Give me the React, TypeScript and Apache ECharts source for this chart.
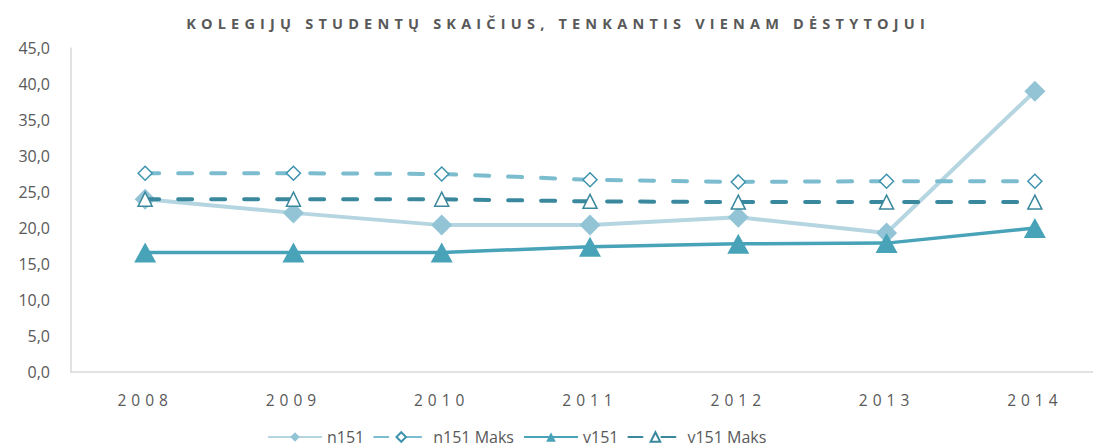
import React, { useEffect, useRef } from "react";
import * as echarts from "echarts";

const categories = ["2008", "2009", "2010", "2011", "2012", "2013", "2014"];
const n151 = [24.0, 22.1, 20.4, 20.4, 21.5, 19.3, 39.0];
const n151Maks = [27.6, 27.6, 27.5, 26.7, 26.4, 26.5, 26.5];
const v151 = [16.6, 16.6, 16.6, 17.4, 17.8, 17.9, 20.0];
const v151Maks = [24.0, 24.0, 24.0, 23.7, 23.6, 23.6, 23.6];
const title = "KOLEGIJŲ STUDENTŲ SKAIČIUS, TENKANTIS VIENAM DĖSTYTOJUI";

const css = `
#root svg text[style*="14.5px"] { letter-spacing: 5.2px; }
#root svg text[style*="15.5px"] { letter-spacing: 5px; }
`;

const W = 1110;

export default function App() {
  const ref = useRef<HTMLDivElement>(null);
  useEffect(() => {
    const chart = echarts.init(ref.current!, null, { renderer: "svg" });
    const font = "'Open Sans', 'Liberation Sans', sans-serif";
    chart.setOption({
      animation: false,
      title: {
        text: title,
        left: 553,
        top: 11,
        textAlign: "center",
        textStyle: { fontFamily: font, fontSize: 14.5, fontWeight: "bold", color: "#595959" },
      },
      legend: {
        bottom: -2,
        left: 262,
        itemWidth: 54,
        itemHeight: 12,
        itemGap: 9,
        textStyle: { fontFamily: font, fontSize: 16, color: "#595959" },
        data: ["n151", "n151 Maks", "v151", "v151 Maks"],
      },
      grid: { left: 71, top: 48, width: 1038, height: 324 },
      xAxis: {
        type: "category",
        data: categories,
        boundaryGap: true,
        axisLine: { lineStyle: { color: "#d9d9d9", width: 1.5 } },
        axisTick: { show: false },
        axisLabel: { fontFamily: font, fontSize: 15.5, color: "#595959", margin: 20 },
      },
      yAxis: {
        type: "value",
        min: 0,
        max: 45,
        interval: 5,
        splitLine: { show: false },
        axisLine: { show: true, lineStyle: { color: "#d9d9d9", width: 1.5 } },
        axisTick: { show: false },
        axisLabel: {
          fontFamily: font,
          fontSize: 16,
          color: "#595959",
          margin: 21,
          formatter: (v: number) => v.toFixed(1).replace(".", ","),
        },
      },
      series: [
        {
          name: "n151",
          type: "line",
          data: n151,
          symbol: "diamond",
          symbolSize: 21,
          lineStyle: { color: "#b5d6e1", width: 4 },
          itemStyle: { color: "#93c4d6", borderWidth: 0 },
          z: 2,
        },
        {
          name: "n151 Maks",
          type: "line",
          data: n151Maks,
          symbol: "diamond",
          symbolSize: 14,
          lineStyle: { color: "#7bbccf", width: 4, type: [14, 19], cap: "round" },
          itemStyle: { color: "#ffffff", borderColor: "#3d93ad", borderWidth: 1.5 },
          z: 3,
        },
        {
          name: "v151",
          type: "line",
          data: v151,
          symbol: "triangle",
          symbolSize: [22, 20],
          lineStyle: { color: "#48a3b9", width: 3.5 },
          itemStyle: { color: "#48a3b9", borderWidth: 0 },
          z: 4,
        },
        {
          name: "v151 Maks",
          type: "line",
          data: v151Maks,
          symbol: "triangle",
          symbolSize: [14, 14],
          lineStyle: { color: "#3a889d", width: 4, type: [14, 19], cap: "round" },
          itemStyle: { color: "#ffffff", borderColor: "#3a889d", borderWidth: 1.5 },
          z: 5,
        },
      ],
    });
    return () => chart.dispose();
  }, []);
  return (
    <>
      <style>{css}</style>
      <div style={{ width: 1093, height: 448, position: "absolute", left: 0, top: 0, overflow: "hidden" }}>
        <div ref={ref} style={{ width: W, height: 448 }} />
      </div>
    </>
  );
}
